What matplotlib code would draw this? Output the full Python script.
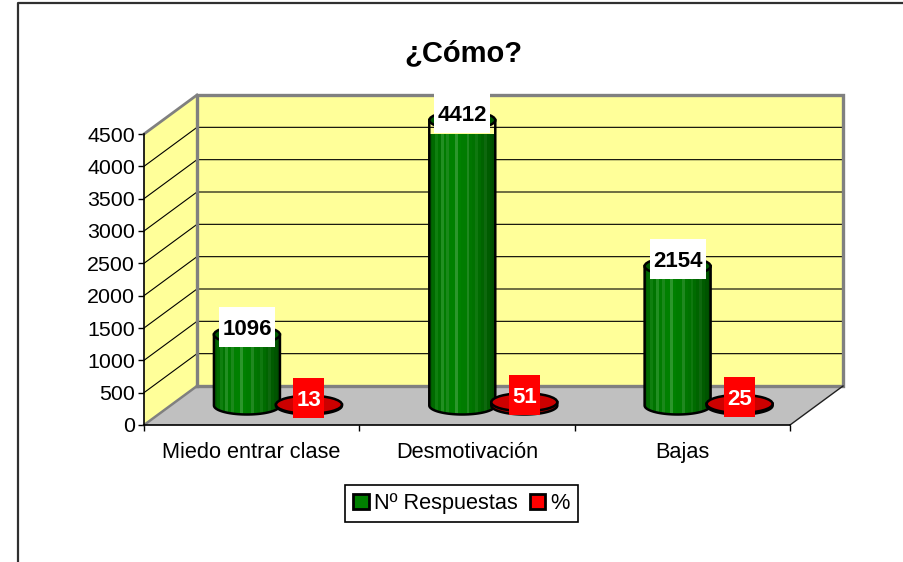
import numpy as np
import matplotlib
matplotlib.use('Agg')
import matplotlib.pyplot as plt
from matplotlib.patches import Polygon, Ellipse, Rectangle, Patch
from matplotlib.lines import Line2D

plt.rcParams['font.family'] = ['Liberation Sans', 'DejaVu Sans']

categories = ['Miedo entrar clase', 'Desmotivación', 'Bajas']
respuestas = [1096, 4412, 2154]
porcentaje = [13, 51, 25]
yticks = [0, 500, 1000, 1500, 2000, 2500, 3000, 3500, 4000, 4500]

W, H = 904, 562
# front plane of the fake 3d box, in pixels
LEFT, RIGHT, BOTTOM, TOP = 144, 790, 425, 134
DEPTH_X, DEPTH_Y = 53, 39

fig = plt.figure(figsize=(W / 100, H / 100), dpi=100, facecolor='white')
ax = fig.add_axes([LEFT / W, 1 - BOTTOM / H, (RIGHT - LEFT) / W, (BOTTOM - TOP) / H])
ax.set_xlim(0, 3)
ax.set_ylim(0, 4500)
ax.patch.set_visible(False)

px_x = 3 / (RIGHT - LEFT)
px_y = 4500 / (BOTTOM - TOP)
dx = DEPTH_X * px_x
dy = DEPTH_Y * px_y

# walls and floor
WALL = '#FFFF99'
FLOOR = '#C0C0C0'
EDGE = '#808080'
ax.add_patch(Polygon([(0, 0), (dx, dy), (dx, 4500 + dy), (0, 4500)], fc=WALL, ec='none', clip_on=False, zorder=1))
ax.add_patch(Polygon([(dx, dy), (3 + dx, dy), (3 + dx, 4500 + dy), (dx, 4500 + dy)], fc=WALL, ec='none', clip_on=False, zorder=1))
ax.add_patch(Polygon([(0, 0), (3, 0), (3 + dx, dy), (dx, dy)], fc=FLOOR, ec='none', clip_on=False, zorder=1))

for v in yticks[1:-1]:
    ax.plot([0, dx, 3 + dx], [v, v + dy, v + dy], color='black', lw=0.8, clip_on=False, zorder=2)

ax.plot([dx, dx, 3 + dx, 3 + dx, dx], [dy, 4500 + dy, 4500 + dy, dy, dy], color=EDGE, lw=2.4, clip_on=False, zorder=3, solid_joinstyle='miter')
ax.plot([0, dx], [4500, 4500 + dy], color=EDGE, lw=2, clip_on=False, zorder=3)
ax.plot([0, dx], [0, dy], color=EDGE, lw=1.8, clip_on=False, zorder=3)
ax.plot([3, 3 + dx], [0, dy], color='#202020', lw=1, clip_on=False, zorder=3)

GREEN_STRIPES = ['#005E00', '#006A00', '#0F7F0F', '#007400', '#228E22', '#007C00', '#1A881A', '#008000',
                 '#008000', '#2C962C', '#008000', '#007C00', '#007C00', '#1F881F', '#007600', '#007200',
                 '#0F780F', '#006C00', '#006400', '#0E680E', '#005C00', '#005400', '#004E00']
RED_STRIPES = ['#A00000', '#B00000', '#B80000', '#B00000', '#A00000', '#900000']


def hex_rgb(c):
    return [int(c[i:i + 2], 16) / 255 for i in (1, 3, 5)]


def cylinder(xc, value, stripes, top_color, z):
    half_w = 33 * px_x
    half_h = 9 * px_y
    base = dy / 2
    top = base + value
    t = np.linspace(0, np.pi, 60)
    outline = np.vstack([
        [[xc - half_w, top], [xc + half_w, top]],
        np.column_stack([xc + half_w * np.cos(t), base - half_h * np.sin(t)]),
    ])
    body = Polygon(outline, fc='none', ec='none', clip_on=True, transform=ax.transData)
    ax.add_patch(body)
    xs = np.linspace(xc - half_w, xc + half_w, len(stripes) + 1)
    colors = np.array([[hex_rgb(c) for c in stripes]])
    mesh = ax.pcolormesh(xs, [base - half_h, top], colors, zorder=z, shading='flat')
    mesh.set_clip_path(body)
    ax.add_patch(Polygon(outline, fc='none', ec='black', lw=1.8, clip_on=False, zorder=z + 0.1))
    ax.add_patch(Ellipse((xc, top), 2 * half_w, 2 * half_h, fc=top_color, ec='black', lw=1.8, clip_on=False, zorder=z + 0.2))


def value_box(xc, value, text, face, color, width, above):
    # data label sits in a fixed pixel-size box above the top of the column
    px, py = ax.transData.transform((xc, dy / 2 + value))
    py += above
    fig.add_artist(Rectangle((px - width / 2, py - 20), width, 40, transform=None, fc=face, ec='none', zorder=10))
    fig.text(px / W, py / H, text, color=color, fontsize=16, fontweight='bold', ha='center', va='center_baseline', zorder=11)


for i in range(len(categories)):
    xg = i + 0.355 + dx / 2
    xr = i + 0.643 + dx / 2
    cylinder(xg, respuestas[i], GREEN_STRIPES, '#005A00', 4 + i)
    cylinder(xr, porcentaje[i], RED_STRIPES, '#CC0000', 4.5 + i)
    value_box(xg, respuestas[i], str(respuestas[i]), 'white', 'black', 56, 7.5)
    value_box(xr, porcentaje[i], str(porcentaje[i]), '#FF0000', 'white', 31, 7)

# axes, ticks, labels
for s in ['top', 'right']:
    ax.spines[s].set_visible(False)
for s in ['left', 'bottom']:
    ax.spines[s].set_linewidth(1.2)
    ax.spines[s].set_zorder(3.5)
ax.set_yticks(yticks)
ax.set_xticks([0, 1, 2, 3])
ax.set_xticklabels([])
ax.set_xticks([0.5, 1.5, 2.5], minor=True)
ax.set_xticklabels(categories, minor=True, fontsize=15.7)
ax.tick_params(axis='x', which='minor', length=0, pad=12)
ax.tick_params(axis='x', which='major', length=4, width=1)
ax.tick_params(axis='y', length=4, width=1, labelsize=15.4, pad=2.5)

fig.text(463.5 / W, 1 - 61 / H, '¿Cómo?', fontsize=21, fontweight='bold', ha='center', va='baseline')

handles = [Patch(fc='#008000', ec='black', lw=2, label='Nº Respuestas'),
           Patch(fc='#FF0000', ec='black', lw=2, label='%')]
leg = fig.legend(handles=handles, ncol=2, loc='center', bbox_to_anchor=(461.5 / W, 1 - 503.5 / H),
                 fontsize=15.7, fancybox=False, framealpha=1, edgecolor='black', handlelength=0.72,
                 handleheight=0.7, handletextpad=0.22, columnspacing=0.55, borderpad=0.38, borderaxespad=0)
leg.get_frame().set_linewidth(1.2)

# chart area border: only left and top fall inside the picture
fig.add_artist(Line2D([18 / W, 18 / W, 1], [0, 1 - 3 / H, 1 - 3 / H], color='#303030', lw=1.6))

fig.savefig('out.png', dpi=100)
